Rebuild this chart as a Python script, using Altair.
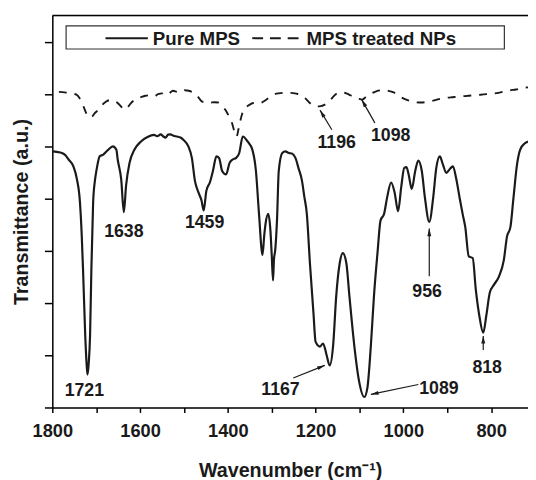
import math
import altair as alt
import pandas as pd

# ---------------- data ----------------
pure_x = [1800, 1790, 1778, 1770, 1763, 1752, 1744, 1737, 1733, 1730, 1725, 1722, 1720, 1717, 1714,
          1711, 1707, 1703, 1699, 1692, 1684, 1673, 1662, 1654, 1651, 1643, 1637, 1632, 1624, 1613,
          1598, 1583, 1568, 1561, 1553, 1547, 1542, 1536, 1531, 1524, 1516, 1508, 1501, 1490, 1482,
          1475, 1467, 1460, 1455, 1449, 1441, 1434, 1426, 1420, 1413, 1404, 1396, 1389, 1381, 1374,
          1366, 1355, 1344, 1336, 1329, 1321, 1317, 1314, 1308, 1303, 1300, 1297, 1295, 1292, 1288,
          1284, 1276, 1269, 1261, 1254, 1246, 1239, 1231, 1226, 1220, 1213, 1205, 1200, 1190, 1183,
          1175, 1168, 1160, 1153, 1145, 1138, 1130, 1123, 1112, 1101, 1089, 1082, 1074, 1067, 1059,
          1052, 1044, 1037, 1028, 1020, 1012, 1005, 998, 993, 988, 981, 973, 966, 958, 951,
          941, 932, 925, 917, 910, 902, 895, 887, 880, 872, 865, 859, 851, 842, 835,
          827, 818, 811, 803, 793, 782, 771, 764, 756, 749, 741, 734, 723, 716]
pure_y = [9.80, 9.78, 9.74, 9.65, 9.49, 9.23, 8.74, 7.85, 6.60, 5.28, 2.76, 1.70, 1.26, 1.70, 2.76,
          5.28, 7.85, 8.67, 9.11, 9.61, 9.68, 9.86, 9.99, 9.86, 9.49, 8.73, 7.47, 8.48, 9.36, 9.86,
          10.18, 10.35, 10.43, 10.38, 10.45, 10.37, 10.33, 10.44, 10.45, 10.40, 10.37, 10.33, 10.24, 9.99, 9.55,
          8.67, 8.23, 7.92, 7.54, 8.29, 8.61, 9.05, 9.61, 9.55, 9.05, 8.92, 9.36, 9.49, 9.55, 9.74,
          10.37, 10.18, 9.86, 9.05, 7.41, 5.84, 6.60, 7.04, 7.41, 6.78, 5.84, 4.86, 5.65, 6.03, 7.16,
          9.05, 9.74, 9.80, 9.74, 9.72, 9.55, 9.16, 8.67, 8.10, 7.41, 5.53, 3.64, 2.51, 2.33, 2.45,
          2.01, 1.61, 2.39, 4.27, 5.53, 5.91, 5.53, 4.27, 2.39, 1.01, 0.40, 0.75, 2.39, 4.27, 5.91,
          7.16, 7.41, 8.04, 8.61, 8.23, 7.51, 8.42, 9.17, 9.20, 8.92, 8.36, 9.05, 9.45, 9.05, 8.04,
          7.10, 8.04, 9.17, 9.61, 9.30, 8.98, 9.11, 9.23, 8.79, 8.04, 7.41, 6.91, 5.78, 5.72, 4.52,
          3.52, 2.86, 3.52, 4.40, 4.71, 5.02, 5.65, 6.53, 6.91, 8.04, 9.30, 9.86, 10.11, 10.18]

np_x = [1785, 1772, 1758, 1745, 1738, 1731, 1724, 1718, 1711, 1703, 1696, 1687, 1678, 1669, 1660,
        1651, 1644, 1637, 1628, 1619, 1610, 1599, 1588, 1577, 1568, 1559, 1550, 1543, 1534, 1525,
        1516, 1507, 1498, 1489, 1480, 1471, 1464, 1458, 1449, 1440, 1431, 1422, 1413, 1404, 1397,
        1390, 1385, 1380, 1376, 1371, 1366, 1359, 1350, 1341, 1332, 1323, 1314, 1305, 1296, 1285,
        1271, 1258, 1244, 1233, 1224, 1215, 1206, 1197, 1188, 1179, 1170, 1161, 1152, 1141, 1130,
        1121, 1112, 1103, 1094, 1085, 1074, 1062, 1049, 1035, 1022, 1011, 999, 986, 972, 959,
        945, 932, 919, 905, 892, 878, 865, 851, 838, 824, 811, 797, 784, 770, 757,
        743, 728, 716]
np_y = [12.08, 12.06, 12.02, 11.97, 11.84, 11.61, 11.31, 11.12, 11.12, 11.27, 11.38, 11.57, 11.70, 11.76, 11.74,
        11.65, 11.53, 11.40, 11.50, 11.68, 11.80, 11.87, 11.93, 11.95, 11.91, 11.99, 12.02, 11.95, 12.02, 12.12,
        12.08, 12.06, 12.14, 12.12, 12.06, 11.95, 11.80, 11.70, 11.72, 11.67, 11.68, 11.67, 11.53, 11.35, 11.12,
        10.86, 10.55, 10.37, 10.63, 11.01, 11.31, 11.48, 11.59, 11.65, 11.63, 11.67, 11.76, 11.87, 11.97, 12.02,
        12.04, 12.04, 12.01, 11.95, 11.84, 11.68, 11.57, 11.52, 11.53, 11.59, 11.68, 11.87, 12.01, 12.06, 12.02,
        11.95, 11.87, 11.82, 11.78, 11.89, 12.01, 12.10, 12.14, 12.12, 12.06, 11.93, 11.82, 11.74, 11.68, 11.67,
        11.70, 11.74, 11.80, 11.84, 11.87, 11.89, 11.91, 11.93, 11.95, 11.97, 11.99, 12.01, 12.04, 12.10, 12.14,
        12.17, 12.23, 12.25]

series_names = ["Pure MPS", "MPS treated NPs"]

label_text = ["1721", "1638", "1459", "1167", "1089", "956", "818", "1196", "1098"]
label_x = [1727, 1637, 1453, 1280, 919, 946, 809, 1152, 1029]
label_y = [0.64, 6.71, 7.05, 0.68, 0.72, 4.41, 1.51, 10.10, 10.37]

arrow_name = ["1167", "1089", "956", "818", "1196", "1098"]
arrow_x1 = [1251, 966, 941, 818, 1163, 1065]
arrow_y1 = [1.13, 0.88, 5.02, 2.20, 10.63, 10.89]
arrow_x2 = [1179, 1074, 941, 818, 1190, 1095]
arrow_y2 = [1.61, 0.50, 6.85, 2.74, 11.38, 11.78]

x_ticks = [1800, 1700, 1600, 1500, 1400, 1300, 1200, 1100, 1000, 900, 800]
y_ticks = list(range(0, 15))

# ---------------- layout ----------------
W, H = 483, 398
X_DOM = [1800, 716]
Y_DOM = [0, 15]
FONT = "Liberation Sans"
INK = "#1a1a1a"

kx = W / (X_DOM[0] - X_DOM[1])
ky = H / (Y_DOM[1] - Y_DOM[0])

pure = pd.DataFrame({"x": pure_x, "y": pure_y, "s": series_names[0]})
nps = pd.DataFrame({"x": np_x, "y": np_y, "s": series_names[1]})
labels = pd.DataFrame({"t": label_text, "x": label_x, "y": label_y})

rows = []
for n, x1, y1, x2, y2 in zip(arrow_name, arrow_x1, arrow_y1, arrow_x2, arrow_y2):
    dxp = -(x2 - x1) * kx
    dyp = -(y2 - y1) * ky
    L = math.hypot(dxp, dyp)
    ux, uy = dxp / L, dyp / L
    ang = math.degrees(math.atan2(ux, -uy)) % 360
    back = 3.8
    hx = x2 + back * ux / kx
    hy = y2 + back * uy / ky
    rows.append({"n": n, "x1": x1, "y1": y1, "x2": x2, "y2": y2, "hx": hx, "hy": hy, "ang": ang})
arrows = pd.DataFrame(rows)

xscale = alt.Scale(domain=X_DOM, nice=False, zero=False)
yscale = alt.Scale(domain=Y_DOM, nice=False, zero=False)

x_axis = alt.Axis(
    values=x_ticks,
    labelExpr="datum.value % 200 == 0 ? datum.label : ''",
    format="d",
    labelFlush=False,
    labelOverlap=False,
    tickSize=5,
    tickWidth=1.5,
    domainWidth=1.5,
    labelPadding=9,
    labelFontSize=18.5,
    labelFontWeight="bold",
    labelColor=INK,
    title="Wavenumber (cm⁻¹)",
    titleFontSize=20,
    titleFontWeight="bold",
    titleColor=INK,
    titlePadding=22,
    grid=False,
    domainColor="black",
    tickColor="black",
)
y_axis = alt.Axis(
    values=y_ticks,
    labels=False,
    tickSize=8,
    tickWidth=1.5,
    domainWidth=1.5,
    title="Transmittance (a.u.)",
    titleFontSize=20,
    titleFontWeight="bold",
    titleColor=INK,
    titlePadding=12,
    grid=False,
    domainColor="black",
    tickColor="black",
)

base_x = alt.X("x:Q", scale=xscale, axis=x_axis)
base_y = alt.Y("y:Q", scale=yscale, axis=y_axis)

solid = alt.Chart(pure).mark_line(color=INK, strokeWidth=2.2, interpolate="monotone").encode(
    x=base_x, y=base_y)
dashed = alt.Chart(nps).mark_line(color=INK, strokeWidth=1.9, strokeDash=[8, 8],
                                  interpolate="monotone").encode(
    x=alt.X("x:Q", scale=xscale), y=alt.Y("y:Q", scale=yscale))

txt = alt.Chart(labels).mark_text(
    font=FONT, fontSize=18, fontWeight="bold", color=INK, baseline="middle", align="center"
).encode(x=alt.X("x:Q", scale=xscale), y=alt.Y("y:Q", scale=yscale), text="t:N")

arrow_lines = alt.Chart(arrows).mark_rule(color=INK, strokeWidth=1.2).encode(
    x=alt.X("x1:Q", scale=xscale), y=alt.Y("y1:Q", scale=yscale),
    x2="x2:Q", y2="y2:Q")
arrow_heads = alt.Chart(arrows).mark_point(
    shape="M0,-1L0.5,1L-0.5,1Z", filled=True, color=INK, size=64, opacity=1
).encode(x=alt.X("hx:Q", scale=xscale), y=alt.Y("hy:Q", scale=yscale), angle=alt.Angle("ang:Q", scale=None))

# top frame line
top_line = alt.Chart(pd.DataFrame({"a": [0]})).mark_rule(color="black", strokeWidth=1.5).encode(
    x=alt.value(0), x2=alt.value(W), y=alt.value(0))

# legend box (manual)
leg_df = pd.DataFrame({"a": [0]})
leg_box = alt.Chart(leg_df).mark_rect(fill="white", stroke="#333", strokeWidth=1.2).encode(
    x=alt.value(14), x2=alt.value(459), y=alt.value(10.5), y2=alt.value(34))
leg_l1 = alt.Chart(leg_df).mark_rule(color=INK, strokeWidth=2).encode(
    x=alt.value(54), x2=alt.value(97), y=alt.value(23))
leg_t1 = alt.Chart(leg_df).mark_text(
    font=FONT, fontSize=19, fontWeight="bold", color=INK, align="left", baseline="middle"
).encode(x=alt.value(102), y=alt.value(23.5), text=alt.value(series_names[0]))
leg_l2 = alt.Chart(leg_df).mark_rule(color=INK, strokeWidth=2, strokeDash=[11, 7]).encode(
    x=alt.value(203), x2=alt.value(256), y=alt.value(23))
leg_t2 = alt.Chart(leg_df).mark_text(
    font=FONT, fontSize=19, fontWeight="bold", color=INK, align="left", baseline="middle"
).encode(x=alt.value(258), y=alt.value(23.5), text=alt.value(series_names[1]))

chart = alt.layer(
    solid, dashed, arrow_lines, arrow_heads, txt, top_line,
    leg_box, leg_l1, leg_t1, leg_l2, leg_t2
).properties(
    width=W, height=H,
    autosize=alt.AutoSizeParams(type="none"),
    padding={"left": 45, "top": 4, "right": 0, "bottom": 70},
).configure_view(stroke=None).configure(font=FONT, background="white")

chart.save("out.html", embed_options={"renderer": "svg", "actions": False})
